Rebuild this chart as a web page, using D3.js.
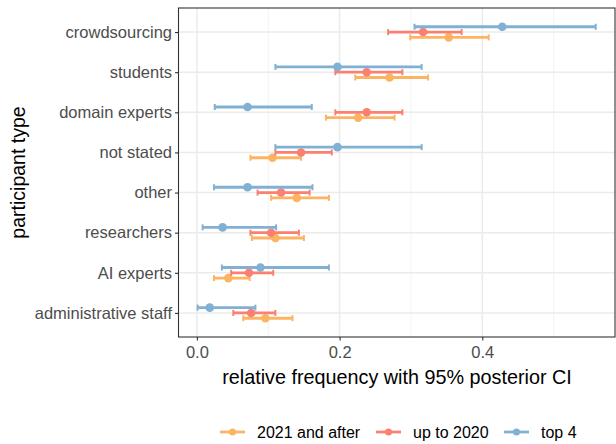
<!DOCTYPE html>
<html>
<head>
<meta charset="utf-8">
<script src="https://cdn.jsdelivr.net/npm/d3@7"></script>
<style>
body { margin: 0; background: #fff; }
text { font-family: 'Liberation Sans', Arial, sans-serif; }
</style>
</head>
<body>
<div class="main"></div>
<script>
var categories = ['crowdsourcing', 'students', 'domain experts', 'not stated', 'other', 'researchers', 'AI experts', 'administrative staff'];
var seriesNames = ['2021 and after', 'up to 2020', 'top 4'];
var seriesColors = ['#fdb462', '#fb8072', '#80b1d3'];

// estimate, lower, upper for each category (same order as categories)
var after2021Mid = [0.353, 0.270, 0.226, 0.106, 0.140, 0.110, 0.044, 0.096];
var after2021Lo = [0.299, 0.222, 0.181, 0.075, 0.104, 0.077, 0.024, 0.065];
var after2021Hi = [0.409, 0.324, 0.277, 0.146, 0.185, 0.150, 0.074, 0.134];

var upto2020Mid = [0.317, 0.238, 0.238, 0.146, 0.118, 0.104, 0.073, 0.076];
var upto2020Lo = [0.268, 0.194, 0.194, 0.110, 0.085, 0.075, 0.048, 0.051];
var upto2020Hi = [0.371, 0.288, 0.288, 0.189, 0.158, 0.143, 0.107, 0.110];

var top4Mid = [0.428, 0.197, 0.071, 0.197, 0.071, 0.036, 0.089, 0.018];
var top4Lo = [0.305, 0.110, 0.025, 0.110, 0.024, 0.008, 0.035, 0.001];
var top4Hi = [0.559, 0.315, 0.161, 0.315, 0.162, 0.111, 0.185, 0.082];

var xTicks = [0, 0.2, 0.4];
var xMinor = [0.1, 0.3, 0.5];

var options = {
    'width': 616,
    'height': 444,
};

var panel = { left: 178.5, right: 615, top: 8, bottom: 337 };

var series = [
    { name: seriesNames[0], color: seriesColors[0], mid: after2021Mid, lo: after2021Lo, hi: after2021Hi, dodge: 5.3 },
    { name: seriesNames[1], color: seriesColors[1], mid: upto2020Mid, lo: upto2020Lo, hi: upto2020Hi, dodge: 0 },
    { name: seriesNames[2], color: seriesColors[2], mid: top4Mid, lo: top4Lo, hi: top4Hi, dodge: -5.3 }
];

var svg = d3.select('.main')
    .append('svg')
    .attr('width', options.width)
    .attr('height', options.height);

svg.append('rect')
    .attr('width', options.width)
    .attr('height', options.height)
    .style('fill', '#fff');

var x = d3.scaleLinear()
    .domain([-0.0258, 0.586])
    .range([panel.left, panel.right]);

var y = d3.scalePoint()
    .domain(categories)
    .range([panel.top, panel.bottom])
    .padding(0.6);

// grid
var grid = svg.append('g');

grid.selectAll('.minor-x')
    .data(xMinor)
    .enter()
    .append('line')
    .attr('x1', function (d) { return x(d); })
    .attr('x2', function (d) { return x(d); })
    .attr('y1', panel.top)
    .attr('y2', panel.bottom)
    .style('stroke', '#f0f0f0')
    .style('stroke-width', 0.8);

grid.selectAll('.major-x')
    .data(xTicks)
    .enter()
    .append('line')
    .attr('x1', function (d) { return x(d); })
    .attr('x2', function (d) { return x(d); })
    .attr('y1', panel.top)
    .attr('y2', panel.bottom)
    .style('stroke', '#ebebeb')
    .style('stroke-width', 1.5);

grid.selectAll('.major-y')
    .data(categories)
    .enter()
    .append('line')
    .attr('x1', panel.left)
    .attr('x2', panel.right)
    .attr('y1', function (d) { return y(d); })
    .attr('y2', function (d) { return y(d); })
    .style('stroke', '#ebebeb')
    .style('stroke-width', 1.5);

// error bars and points
series.forEach(function (s) {
    var g = svg.append('g')
        .attr('transform', 'translate(0,' + s.dodge + ')');

    var rows = categories.map(function (c, i) {
        return { cat: c, mid: s.mid[i], lo: s.lo[i], hi: s.hi[i] };
    });

    g.selectAll('.bar')
        .data(rows)
        .enter()
        .append('line')
        .attr('x1', function (d) { return x(d.lo); })
        .attr('x2', function (d) { return x(d.hi); })
        .attr('y1', function (d) { return y(d.cat); })
        .attr('y2', function (d) { return y(d.cat); })
        .style('stroke', s.color)
        .style('stroke-width', 2.8);

    ['lo', 'hi'].forEach(function (k) {
        g.selectAll('.cap-' + k)
            .data(rows)
            .enter()
            .append('line')
            .attr('x1', function (d) { return x(d[k]); })
            .attr('x2', function (d) { return x(d[k]); })
            .attr('y1', function (d) { return y(d.cat) - 3; })
            .attr('y2', function (d) { return y(d.cat) + 3; })
            .style('stroke', s.color)
            .style('stroke-width', 2);
    });

    g.selectAll('.pt')
        .data(rows)
        .enter()
        .append('circle')
        .attr('cx', function (d) { return x(d.mid); })
        .attr('cy', function (d) { return y(d.cat); })
        .attr('r', 4.3)
        .style('fill', s.color);
});

// panel border
svg.append('rect')
    .attr('x', panel.left)
    .attr('y', panel.top)
    .attr('width', panel.right - panel.left)
    .attr('height', panel.bottom - panel.top)
    .style('fill', 'none')
    .style('stroke', '#333')
    .style('stroke-width', 1.1);

// axes
var xAxis = svg.append('g')
    .attr('transform', 'translate(0,' + panel.bottom + ')')
    .call(d3.axisBottom(x).tickValues(xTicks).tickFormat(d3.format('.1f')).tickSize(3.5).tickPadding(6));

var yAxis = svg.append('g')
    .attr('transform', 'translate(' + panel.left + ',0)')
    .call(d3.axisLeft(y).tickSize(3.5).tickPadding(3));

[xAxis, yAxis].forEach(function (a) {
    a.select('.domain').remove();
    a.selectAll('.tick line').style('stroke', '#333').style('stroke-width', 1.1);
    a.selectAll('.tick text')
        .style('fill', '#4d4d4d')
        .style('font-size', '16.5px')
        .style('font-family', "'Liberation Sans', Arial, sans-serif");
});

svg.append('text')
    .text('relative frequency with 95% posterior CI')
    .attr('x', 397)
    .attr('y', 383.5)
    .attr('text-anchor', 'middle')
    .style('font-size', '19.8px')
    .style('fill', '#000');

svg.append('text')
    .text('participant type')
    .attr('transform', 'translate(25,' + (panel.top + panel.bottom) / 2 + ') rotate(-90)')
    .attr('text-anchor', 'middle')
    .style('font-size', '19.5px')
    .style('fill', '#000');

// legend
var legendX = [220, 376, 504];
var legend = svg.append('g');

var items = legend.selectAll('.item')
    .data(series)
    .enter()
    .append('g')
    .attr('transform', function (d, i) {
        return 'translate(' + legendX[i] + ',432)';
    });

items.append('line')
    .attr('x1', 0)
    .attr('x2', 25)
    .style('stroke', function (d) { return d.color; })
    .style('stroke-width', 2.8);

items.append('circle')
    .attr('cx', 12.5)
    .attr('r', 3.5)
    .style('fill', function (d) { return d.color; });

items.append('text')
    .text(function (d) { return d.name; })
    .attr('x', 37)
    .attr('dy', '0.35em')
    .style('font-size', '16px')
    .style('fill', '#000');
</script>
</body>
</html>
